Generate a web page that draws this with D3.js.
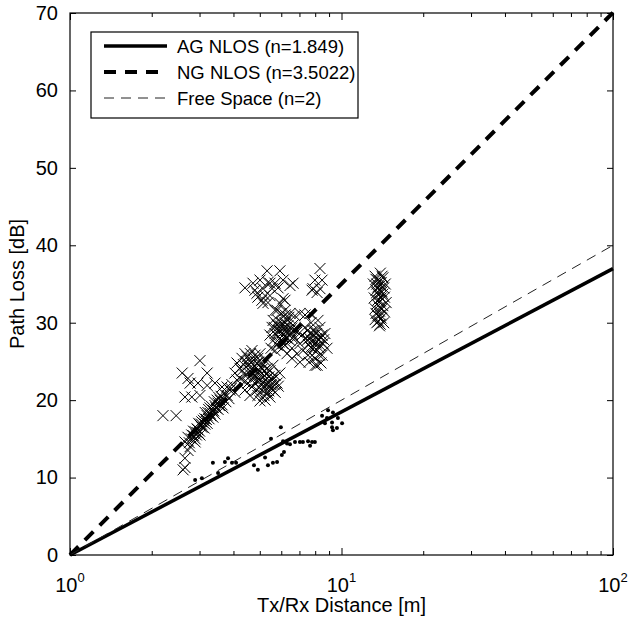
<!DOCTYPE html>
<html>
<head>
<meta charset="utf-8">
<script src="https://cdn.jsdelivr.net/npm/d3@7"></script>
<style>
  body { margin: 0; background: #fff; }
  svg { font-family: "Liberation Sans", Arial, sans-serif; }
</style>
</head>
<body>
<svg id="svg"></svg>
<script>
// path loss exponents of the three fitted lines
const fitNames = ["AG NLOS (n=1.849)", "NG NLOS (n=3.5022)", "Free Space (n=2)"];
const fitExponents = [1.849, 3.5022, 2];
const fitDistances = [1, 100];

// NG NLOS measurements (crosses) [distance m, path loss dB]
const ngPoints = [
    [2.20, 18.0], [2.46, 18.0],
    [2.61, 11.0], [2.65, 11.3], [2.65, 12.5], [2.72, 13.5], [2.77, 14.0], [2.65, 14.6],
    [2.72, 15.2], [2.81, 15.5], [2.89, 15.0], [2.85, 16.0], [2.94, 16.3], [3.01, 16.8],
    [2.96, 15.8], [3.06, 17.2], [3.14, 17.6], [3.06, 16.5], [3.20, 18.0], [3.28, 18.3],
    [3.20, 17.0], [3.36, 18.7], [3.42, 19.3], [3.28, 19.0], [3.51, 19.6], [3.36, 17.8],
    [3.57, 20.0], [3.63, 19.4], [3.42, 18.2], [3.14, 16.9], [3.01, 15.5], [2.89, 14.6],
    [3.66, 20.2], [3.51, 18.8],
    [2.75, 14.5], [2.80, 15.0], [2.85, 15.4], [2.90, 15.9], [2.95, 16.2], [3.00, 16.0],
    [3.05, 16.9], [3.10, 17.4], [3.12, 16.4], [3.18, 17.5], [3.22, 18.4], [3.25, 17.6],
    [3.30, 18.0], [3.32, 19.2], [3.38, 18.6], [3.45, 19.0], [3.48, 20.0], [3.55, 19.3],
    [3.60, 20.5], [3.70, 20.8], [3.75, 19.8], [3.85, 20.2], [3.92, 21.5], [3.24, 18.8],
    [3.40, 19.8], [3.15, 18.4], [2.98, 17.0], [2.92, 15.5], [3.52, 20.4], [3.66, 19.0],
    [2.59, 23.5], [3.01, 25.1], [2.72, 22.8], [2.77, 22.2], [2.96, 22.2], [3.20, 21.9],
    [3.42, 22.2], [3.63, 21.7], [2.65, 20.4], [2.81, 20.4], [3.01, 20.6], [3.20, 23.5],
    [3.79, 21.7],
    [3.79, 20.6], [3.88, 21.3], [3.95, 22.0], [4.05, 21.0], [4.12, 22.6], [4.05, 23.5],
    [4.23, 24.1], [4.12, 24.8], [4.30, 25.4], [4.41, 26.0], [4.23, 22.8], [4.41, 23.2],
    [4.52, 24.5], [4.60, 25.1], [4.68, 26.4], [4.80, 25.8], [4.52, 22.2], [4.60, 23.8],
    [4.72, 24.1], [4.80, 23.2], [4.88, 24.8], [4.92, 25.4], [5.01, 26.0], [4.68, 21.7],
    [4.80, 22.2], [4.88, 21.3], [5.01, 22.6], [5.09, 23.5], [5.14, 24.5], [5.23, 25.1],
    [4.92, 20.6], [5.09, 21.3], [5.23, 22.0], [5.32, 22.8], [5.45, 23.8], [5.36, 20.9],
    [5.45, 21.7], [5.55, 22.6], [5.69, 23.2], [5.59, 21.3], [5.79, 22.2], [5.93, 23.5],
    [5.45, 20.4], [5.23, 20.0], [4.41, 21.3], [4.60, 20.6], [5.01, 19.9], [4.30, 23.8],
    [4.72, 22.8], [5.14, 23.0], [5.32, 24.1], [5.59, 24.5], [4.96, 23.8], [4.84, 23.0],
    [5.05, 24.3],
    [4.35, 24.6], [4.45, 25.0], [4.55, 23.5], [4.65, 24.8], [4.75, 25.2], [4.70, 23.4],
    [4.85, 24.2], [4.95, 24.9], [4.90, 22.6], [5.00, 23.2], [5.10, 24.0], [5.05, 22.0],
    [5.15, 22.4], [5.20, 23.8], [5.28, 21.5], [5.35, 22.2], [5.40, 23.0], [5.50, 22.0],
    [5.58, 23.0], [5.40, 21.2], [5.65, 22.0], [5.30, 23.4], [4.60, 24.2], [4.50, 25.6],
    [4.62, 26.0], [4.40, 22.4], [5.18, 20.6], [5.70, 21.0], [5.85, 21.8], [4.98, 21.6],
    [5.45, 28.4], [5.55, 29.4], [5.59, 27.7], [5.69, 28.6], [5.79, 29.7], [5.84, 30.3],
    [5.93, 28.0], [5.93, 29.0], [6.03, 30.0], [6.09, 27.3], [6.09, 28.4], [6.19, 29.4],
    [6.30, 30.3], [6.30, 28.0], [6.46, 29.0], [6.46, 27.7], [6.57, 28.6], [6.63, 29.7],
    [6.74, 28.0], [6.86, 28.8], [6.19, 27.1], [6.03, 26.7], [5.79, 27.1], [5.69, 26.4],
    [5.50, 26.7], [6.40, 30.7], [6.00, 31.2], [6.20, 31.0], [5.60, 30.3],
    [5.75, 28.4], [5.85, 29.0], [5.95, 29.6], [6.05, 28.7], [6.15, 28.0], [6.25, 29.0],
    [6.35, 29.6], [6.00, 27.8], [6.40, 28.4], [5.65, 29.4], [6.55, 29.3], [6.20, 30.0],
    [5.88, 27.5], [6.12, 29.3], [6.60, 28.0],
    [5.69, 31.6], [5.93, 32.5], [6.19, 31.6], [6.46, 31.2], [6.74, 30.9], [7.03, 31.2],
    [7.34, 31.0], [7.66, 31.2],
    [7.03, 27.3], [7.15, 28.4], [7.21, 26.4], [7.34, 29.4], [7.46, 27.7], [7.53, 25.8],
    [7.66, 28.6], [7.72, 30.0], [7.79, 26.7], [7.85, 27.7], [7.98, 29.0], [7.98, 25.4],
    [8.13, 28.0], [8.13, 26.4], [8.33, 29.4], [8.33, 27.1], [8.48, 28.4], [8.48, 25.8],
    [8.55, 27.3], [8.69, 28.6], [8.84, 26.7], [8.19, 30.3], [7.60, 24.9], [8.00, 24.5],
    [8.40, 24.8], [6.57, 25.4], [7.03, 24.9], [8.13, 24.5], [6.30, 26.0], [6.57, 26.7],
    [6.86, 26.0],
    [7.40, 28.0], [7.55, 27.2], [7.62, 28.0], [7.70, 26.8], [7.75, 27.6], [7.90, 28.4],
    [7.95, 26.8], [8.05, 27.4], [8.10, 28.6], [8.20, 27.8], [8.25, 26.8], [8.40, 28.0],
    [7.85, 29.0], [7.50, 29.0], [8.60, 27.8], [7.80, 25.8], [8.30, 25.8],
    [5.32, 36.7], [5.93, 36.7], [4.41, 34.5], [4.72, 35.1], [5.01, 35.5], [5.36, 35.2],
    [5.69, 35.1], [6.09, 35.5], [6.46, 34.8], [4.80, 34.2], [5.14, 34.4], [5.55, 34.4],
    [5.84, 34.5], [4.92, 33.3], [5.23, 33.5], [6.09, 33.1], [5.14, 32.5], [5.45, 35.1],
    [6.63, 35.1], [4.88, 33.8], [5.45, 33.5], [5.09, 32.9], [5.36, 32.6], [5.79, 31.6],
    [6.19, 32.9],
    [8.33, 37.0], [7.98, 35.5], [8.48, 35.5], [7.85, 34.4], [8.33, 34.4], [8.13, 33.9],
    [7.79, 34.2],
    [13.3, 36.0], [13.9, 36.4], [14.2, 35.8], [13.6, 35.5], [13.1, 35.0], [14.5, 35.0],
    [13.9, 34.8], [13.4, 34.2], [14.1, 34.0], [13.7, 33.6], [13.2, 33.2], [14.4, 33.3],
    [13.9, 32.8], [13.5, 32.4], [14.2, 32.2], [13.3, 31.8], [13.8, 31.5], [14.4, 31.4],
    [13.6, 30.9], [14.0, 30.6], [13.3, 30.4], [14.3, 30.0], [13.8, 29.6], [13.5, 33.9],
    [14.0, 35.2], [13.6, 34.6], [14.2, 33.7], [13.8, 32.0], [13.4, 31.2], [14.6, 32.6],
    [13.5, 35.0], [13.8, 34.2], [14.0, 33.2], [13.6, 32.9], [13.9, 31.0], [13.7, 30.2],
    [14.1, 36.0], [13.4, 35.6], [14.3, 34.5], [13.5, 30.0], [13.9, 29.8], [14.1, 31.8]
];

// AG NLOS measurements (dots)
const agPoints = [
    [2.89, 9.7], [3.06, 9.9], [3.36, 11.9], [3.51, 10.6], [3.72, 12.0], [3.82, 12.5],
    [3.95, 11.9], [4.09, 11.9], [4.76, 11.6], [4.92, 11.0], [5.23, 12.6], [5.36, 11.6],
    [5.59, 11.9], [5.79, 12.0], [6.03, 12.9], [6.14, 13.3], [5.98, 16.5], [5.50, 15.0],
    [6.09, 14.7], [6.30, 14.4], [6.46, 14.3], [6.74, 14.6], [7.03, 14.6], [7.21, 14.6],
    [7.53, 14.7], [7.79, 14.6], [7.98, 14.6], [7.66, 14.1], [8.48, 18.0], [8.92, 18.7],
    [9.30, 18.4], [8.84, 17.7], [9.23, 17.1], [9.70, 17.7], [10.05, 17.0], [9.23, 16.5],
    [9.30, 16.1], [9.62, 16.4], [8.69, 17.0]
];

const yTicks = [0, 10, 20, 30, 40, 50, 60, 70];
const xMajor = [1, 10, 100];
const xMinor = [2, 3, 4, 5, 6, 7, 8, 9, 20, 30, 40, 50, 60, 70, 80, 90];
const xLabel = "Tx/Rx Distance [m]";
const yLabel = "Path Loss [dB]";

const width = 629;
const height = 623;
const margin = { top: 13, right: 16, bottom: 68, left: 70 };

let svg = d3.select("#svg").attr("width", width).attr("height", height);

const x = d3.scaleLog().domain([1, 100]).range([margin.left, width - margin.right]);
const y = d3.scaleLinear().domain([0, 70]).range([height - margin.bottom, margin.top]);

const x0 = x.range()[0], x1 = x.range()[1];
const y0 = y.range()[0], y1 = y.range()[1];

// fitted lines
const lineStyles = [
    { w: 3.5, dash: null, col: "#000" },
    { w: 4, dash: "12,9", col: "#000" },
    { w: 1, dash: "10,7", col: "#222" }
];
const line = d3.line().x(d => x(d[0])).y(d => y(d[1]));

fitExponents.forEach((n, i) => {
    let pts = fitDistances.map(d => [d, 10 * n * Math.log10(d)]);
    let p = svg.append("path")
        .attr("d", line(pts))
        .attr("fill", "none")
        .attr("stroke", lineStyles[i].col)
        .attr("stroke-width", lineStyles[i].w);
    if (lineStyles[i].dash) p.attr("stroke-dasharray", lineStyles[i].dash);
});

// crosses
svg.append("g").selectAll("path")
    .data(ngPoints)
    .enter().append("path")
    .attr("transform", d => `translate(${x(d[0])},${y(d[1])})`)
    .attr("d", "M-5.5,-5.5L5.5,5.5M5.5,-5.5L-5.5,5.5")
    .attr("stroke", "#000")
    .attr("stroke-width", 1)
    .attr("fill", "none");

// dots
svg.append("g").selectAll("circle")
    .data(agPoints)
    .enter().append("circle")
    .attr("cx", d => x(d[0]))
    .attr("cy", d => y(d[1]))
    .attr("r", 2)
    .attr("fill", "#000");

// axes, ticks pointing inward on all four sides
function styleAxis(g) {
    g.select(".domain").remove();
    g.selectAll(".tick line").attr("stroke", "#000").attr("stroke-width", 1);
    g.selectAll("text").style("font-size", "20px").attr("fill", "#000");
}

svg.append("g")
    .attr("transform", `translate(0,${y0})`)
    .call(d3.axisBottom(x).tickValues(xMajor).tickSize(-7).tickFormat(""))
    .call(styleAxis);
svg.append("g")
    .attr("transform", `translate(0,${y0})`)
    .call(d3.axisBottom(x).tickValues(xMinor).tickSize(-4).tickFormat(""))
    .call(styleAxis);
svg.append("g")
    .attr("transform", `translate(0,${y1})`)
    .call(d3.axisTop(x).tickValues(xMajor).tickSize(-7).tickFormat(""))
    .call(styleAxis);
svg.append("g")
    .attr("transform", `translate(0,${y1})`)
    .call(d3.axisTop(x).tickValues(xMinor).tickSize(-4).tickFormat(""))
    .call(styleAxis);

svg.append("g")
    .attr("transform", `translate(${x0},0)`)
    .call(d3.axisLeft(y).tickValues(yTicks).tickSize(-6).tickPadding(12))
    .call(styleAxis);
svg.append("g")
    .attr("transform", `translate(${x1},0)`)
    .call(d3.axisRight(y).tickValues(yTicks).tickSize(-6).tickFormat(""))
    .call(styleAxis);

// 10^k labels
const xl = svg.append("g").style("font-size", "20px");
xMajor.forEach(v => {
    let t = xl.append("text")
        .attr("x", x(v))
        .attr("y", y0 + 37)
        .attr("text-anchor", "middle");
    t.append("tspan").text("10");
    t.append("tspan").attr("dy", -10).style("font-size", "13px").text(Math.round(Math.log10(v)));
});

// frame
svg.append("rect")
    .attr("x", x0).attr("y", y1)
    .attr("width", x1 - x0).attr("height", y0 - y1)
    .attr("fill", "none").attr("stroke", "#000").attr("stroke-width", 1.2);

// axis titles
svg.append("text")
    .attr("x", (x0 + x1) / 2)
    .attr("y", height - 11)
    .attr("text-anchor", "middle")
    .style("font-size", "20px")
    .text(xLabel);

svg.append("text")
    .attr("transform", `translate(24,${(y0 + y1) / 2}) rotate(-90)`)
    .attr("text-anchor", "middle")
    .style("font-size", "20px")
    .text(yLabel);

// legend
const lg = svg.append("g");
lg.append("rect")
    .attr("x", 91).attr("y", 32)
    .attr("width", 267).attr("height", 86)
    .attr("fill", "#fff").attr("stroke", "#000").attr("stroke-width", 1.2);

fitNames.forEach((name, i) => {
    let cy = 46 + i * 26;
    let p = lg.append("line")
        .attr("x1", 104).attr("x2", 167)
        .attr("y1", cy).attr("y2", cy)
        .attr("stroke", lineStyles[i].col)
        .attr("stroke-width", lineStyles[i].w);
    if (lineStyles[i].dash) p.attr("stroke-dasharray", lineStyles[i].dash);
    lg.append("text")
        .attr("x", 177).attr("y", cy + 7)
        .style("font-size", "18.5px")
        .text(name);
});
</script>
</body>
</html>
